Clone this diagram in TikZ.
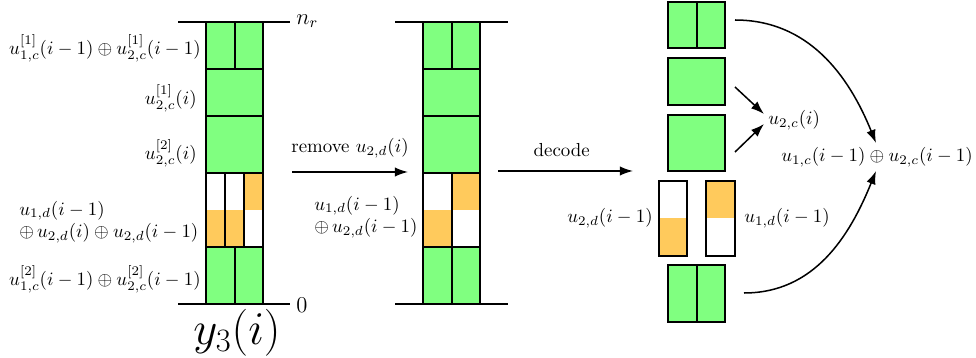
\documentclass[tikz,border=0pt]{standalone}
\usetikzlibrary{arrows.meta}
\definecolor{gfill}{HTML}{80FF80}
\definecolor{ofill}{HTML}{FFCA5C}
\begin{document}
\begin{tikzpicture}[x=0.53pt,y=-0.53pt,
  bx/.style={draw=black,line width=1pt},
  ln/.style={line width=1pt},
  arr/.style={line width=0.8pt,-{Latex[length=7pt,width=5pt]}},
  lbl/.style={inner sep=0pt}]
\useasboundingbox (0,0) rectangle (976,358);
% ---------- column 1 ----------
\fill[gfill] (206,22) rectangle (263,173);
\fill[gfill] (206,247) rectangle (263,304);
\fill[white] (206,173) rectangle (263,247);
\fill[ofill] (206,210) rectangle (244,247);
\fill[ofill] (244,173) rectangle (263,210);
\draw[bx] (206,22) rectangle (263,304);
\foreach \yy in {69,116,173,247} \draw[ln] (206,\yy) -- (263,\yy);
\draw[ln] (235,22) -- (235,69);
\draw[ln] (235,247) -- (235,304);
\draw[ln] (225,173) -- (225,247);
\draw[ln] (244,173) -- (244,247);
\draw[ln] (178,22) -- (290,22);
\draw[ln] (178,304) -- (290,304);
\node[lbl,anchor=west] (nr) at (296,21) {\large $n_r$};
\node[lbl,anchor=west] (zero) at (296,305) {\large $0$};
\node[lbl] (y3) at (237,333) {\fontsize{23}{27}\selectfont $y_3(i)$};
\node[lbl,anchor=east] (l1) at (201,48) {$u^{[1]}_{1,c}(i-1)\oplus u^{[1]}_{2,c}(i-1)$};
\node[lbl,anchor=east] (l2) at (197,98) {$u^{[1]}_{2,c}(i)$};
\node[lbl,anchor=east] (l3) at (197,153) {$u^{[2]}_{2,c}(i)$};
\node[lbl,anchor=west,align=left] (l4) at (19,222) {$u_{1,d}(i-1)$\\$\oplus\, u_{2,d}(i)\oplus u_{2,d}(i-1)$};
\node[lbl,anchor=east] (l5) at (201,279) {$u^{[2]}_{1,c}(i-1)\oplus u^{[2]}_{2,c}(i-1)$};
% ---------- column 2 ----------
\fill[gfill] (423,22) rectangle (480,173);
\fill[gfill] (423,247) rectangle (480,304);
\fill[white] (423,173) rectangle (480,247);
\fill[ofill] (423,210) rectangle (452,247);
\fill[ofill] (452,173) rectangle (480,210);
\draw[bx] (423,22) rectangle (480,304);
\foreach \yy in {69,116,173,247} \draw[ln] (423,\yy) -- (480,\yy);
\draw[ln] (452,22) -- (452,69);
\draw[ln] (452,173) -- (452,304);
\draw[ln] (395,22) -- (508,22);
\draw[ln] (395,304) -- (508,304);
\node[lbl,anchor=west,align=left] (m1) at (314,217) {$u_{1,d}(i-1)$\\$\oplus\, u_{2,d}(i-1)$};
% arrows
\coordinate (r1) at (292,172);
\coordinate (r2) at (408,172);
\draw[arr] (r1) -- node[above=7pt,lbl] (rl) {remove $u_{2,d}(i)$} (r2);
\coordinate (d1) at (498,171);
\coordinate (d2) at (633,171);
\draw[arr] (d1) -- node[above=7pt,lbl,xshift=-2pt] (dl) {decode} (d2);
% ---------- right part ----------
\draw[bx,fill=gfill] (668,2) rectangle (725,48);
\draw[ln] (697,2) -- (697,48);
\draw[bx,fill=gfill] (668,58) rectangle (725,105);
\draw[bx,fill=gfill] (668,115) rectangle (725,171);
\fill[ofill] (659,218) rectangle (687,256);
\draw[bx] (659,181) rectangle (687,256);
\fill[ofill] (706,181) rectangle (735,218);
\draw[bx] (706,181) rectangle (735,256);
\draw[bx,fill=gfill] (668,265) rectangle (725,322);
\draw[ln] (697,265) -- (697,322);
\node[lbl,anchor=east] (r2d) at (653,218) {$u_{2,d}(i-1)$};
\node[lbl,anchor=west] (r1d) at (744,218) {$u_{1,d}(i-1)$};
\node[lbl,anchor=west] (u2c) at (768,120) {$u_{2,c}(i)$};
\node[lbl] (sum) at (877,157) {$u_{1,c}(i-1)\oplus u_{2,c}(i-1)$};
\coordinate (a1) at (735,87);
\coordinate (a2) at (735,152);
\draw[arr] (a1) -- (764,114);
\draw[arr] (a2) -- (764,124);
\coordinate (c1) at (735,20);
\coordinate (c2) at (744,293);
\draw[arr] (c1) to[out=0,in=112] (876,143);
\draw[arr] (c2) to[out=0,in=-112] (876,171);
\end{tikzpicture}
\end{document}
